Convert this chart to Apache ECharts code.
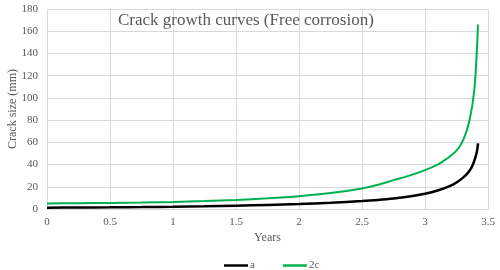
<!DOCTYPE html>
<html>
<head>
<meta charset="utf-8">
<script src="https://cdn.jsdelivr.net/npm/echarts@6/dist/echarts.min.js"></script>
<style>html,body{margin:0;padding:0;background:#fff}#c{width:500px;height:270px}</style>
</head>
<body>
<div id="c"></div>
<script>
var titleText = 'Crack growth curves (Free corrosion)';
var xName = 'Years';
var yName = 'Crack size (mm)';
var seriesNames = ['a', '2c'];
var aYears = [0, 0.25, 0.5, 0.75, 1, 1.25, 1.5, 1.75, 2, 2.25, 2.5, 2.625, 2.75, 2.875, 3, 3.1, 3.2, 3.25, 3.3, 3.34, 3.37, 3.39, 3.405, 3.414, 3.421];
var aValues = [1.2, 1.35, 1.5, 1.7, 2.0, 2.4, 3.0, 3.7, 4.5, 5.6, 7.2, 8.2, 9.5, 11.3, 13.7, 16.6, 20.8, 23.8, 28, 32.5, 37.5, 43, 48.5, 53, 59];
var cYears = [0, 0.25, 0.5, 0.75, 1, 1.25, 1.5, 1.75, 2, 2.25, 2.5, 2.625, 2.75, 2.875, 3, 3.1, 3.15, 3.2, 3.25, 3.285, 3.31, 3.335, 3.355, 3.375, 3.39, 3.4, 3.41, 3.416, 3.42];
var cValues = [5.0, 5.2, 5.5, 5.9, 6.4, 7.2, 8.2, 9.6, 11.5, 14.3, 18.5, 21.8, 26, 30, 35, 40, 43.5, 47.5, 52.5, 58, 64, 72, 81, 93, 106, 119, 139, 153, 166];

function pairs(xs, ys){ return xs.map(function(x,i){ return [x, ys[i]]; }); }

var font = '"Liberation Serif", "Times New Roman", serif';
var grey = '#595959';
var gridCol = '#d9d9d9';

var chart = echarts.init(document.getElementById('c'), null, {renderer: 'canvas'});
chart.setOption({
  animation: false,
  textStyle: {fontFamily: font},
  title: {
    text: titleText, left: 118, top: 12, padding: 0,
    textStyle: {fontFamily: font, fontSize: 17, fontWeight: 'normal', color: grey}
  },
  grid: {left: 47, right: 12, top: 9, bottom: 61, containLabel: false, outerBoundsMode: 'none'},
  legend: {
    data: [
      {name: seriesNames[0], icon: 'rect'},
      {name: seriesNames[1], icon: 'rect'}
    ],
    left: 219, top: 255, itemWidth: 24, itemHeight: 2.5, itemGap: 28,
    textStyle: {fontFamily: font, fontSize: 11, color: grey, padding: [0,0,0,-3]}
  },
  xAxis: {
    type: 'value', min: 0, max: 3.5, interval: 0.5,
    name: xName, nameLocation: 'middle', nameGap: 23, nameMoveOverlap: false,
    nameTextStyle: {fontFamily: font, fontSize: 12, color: grey},
    axisLine: {show: true, lineStyle: {color: gridCol, width: 1}},
    axisTick: {show: false},
    axisLabel: {fontFamily: font, fontSize: 11, color: grey, margin: 8},
    splitLine: {show: true, lineStyle: {color: gridCol, width: 1}}
  },
  yAxis: {
    type: 'value', min: 0, max: 180, interval: 20,
    name: yName, nameLocation: 'middle', nameGap: 28, nameRotate: 90, nameMoveOverlap: false,
    nameTextStyle: {fontFamily: font, fontSize: 12, color: grey},
    axisLine: {show: false},
    axisTick: {show: false},
    axisLabel: {fontFamily: font, fontSize: 11, color: grey, margin: 9},
    splitLine: {show: true, lineStyle: {color: gridCol, width: 1}}
  },
  series: [
    {
      name: seriesNames[0], type: 'line', data: pairs(aYears, aValues),
      symbol: 'none', smooth: 0.3,
      lineStyle: {color: '#000000', width: 2.5}, itemStyle: {color: '#000000'}
    },
    {
      name: seriesNames[1], type: 'line', data: pairs(cYears, cValues),
      symbol: 'none', smooth: 0.3,
      lineStyle: {color: '#00b050', width: 2}, itemStyle: {color: '#00b050'}
    }
  ]
});
</script>
</body>
</html>
